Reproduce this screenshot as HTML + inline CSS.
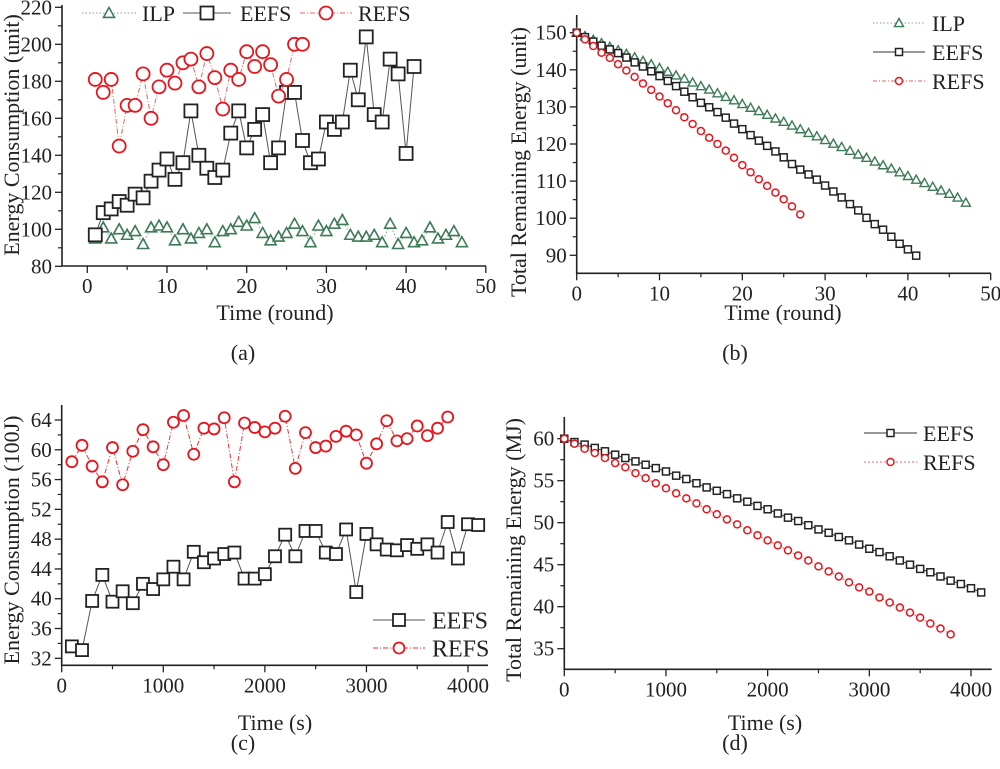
<!DOCTYPE html>
<html><head><meta charset="utf-8"><style>
html,body{margin:0;padding:0;background:#fff;}
svg{display:block;font-family:"Liberation Serif","Times New Roman",serif;}
svg text{font-family:"Liberation Serif","Times New Roman",serif;}
</style></head><body>
<svg id="fig" width="1000" height="769" viewBox="0 0 1000 769"></svg>
<script>
// ---- Panel (a) data ----
const aILP = [95,101,95,100,97,99,92,101,102,101,94,100,95,98,100,93,99,100,104,102,106,98,94,96,98,103,99,93,102,99,103,105,97,96,96,97,93,103,92,98,93,94,101,95,97,99,93];
const aEEFS = [97,109,111,115,113,119,117,126,132,138,127,136,164,140,133,128,132,152,164,144,154,162,136,144,174,174,148,136,138,158,154,158,186,170,204,162,158,192,184,141,188];
const aREFS = [181,174,181,145,167,167,184,160,177,186,179,190,192,177,195,182,165,186,181,196,188,196,189,172,181,200,200];
const aXTicks = [0,10,20,30,40,50];
const aYTicks = [80,100,120,140,160,180,200,220];
// ---- Panel (b) data ----
const bILP = [150,149.1,148.1,147.2,146.2,145.3,144.3,143.4,142.4,141.5,140.5,139.5,138.5,137.6,136.6,135.6,134.7,133.7,132.7,131.8,130.8,129.8,128.9,127.9,126.9,126.0,125.0,124.0,123.0,122.1,121.1,120.1,119.2,118.2,117.2,116.3,115.3,114.3,113.4,112.4,111.4,110.4,109.5,108.5,107.5,106.6,105.6,104.2];
const bEEFS = [150,148.8,147.6,146.5,145.5,144.5,143.3,142.0,140.9,139.6,138.3,137.0,135.6,134.1,132.6,131.1,129.9,128.6,127.1,125.5,124.0,122.4,120.9,119.5,118.0,116.4,114.6,113.1,111.8,110.4,108.8,107.2,105.6,103.8,102.1,100.1,98.4,96.9,95.0,93.1,91.6,89.9];
const bREFS = [150,148.2,146.4,144.6,143.2,141.5,139.8,138.1,136.3,134.6,132.8,131.0,129.1,127.2,125.4,123.5,121.7,120.0,118.2,116.3,114.3,112.4,110.5,108.7,106.9,105.1,103.2,101.0];
const bXTicks = [0,10,20,30,40,50];
const bYTicks = [90,100,110,120,130,140,150];
// ---- Panel (c) data ----
const cEEFS = [33.6,33.1,39.7,43.2,39.6,41.0,39.4,42.0,41.3,42.6,44.3,42.6,46.3,44.9,45.4,46.0,46.2,42.7,42.7,43.3,45.7,48.6,45.7,49.1,49.1,46.2,46.0,49.3,40.9,48.7,47.3,46.6,46.5,47.2,46.7,47.3,46.2,50.3,45.4,50.0,49.9];
const cREFS = [58.4,60.6,57.8,55.7,60.3,55.3,59.8,62.7,60.4,58.0,63.7,64.6,59.4,62.9,62.8,64.3,55.7,63.6,63.0,62.4,62.9,64.5,57.5,62.3,60.3,60.5,61.8,62.5,62.0,58.2,60.8,63.9,61.2,61.5,63.2,61.9,62.9,64.4];
const cXTicks = [0,1000,2000,3000,4000];
const cYTicks = [32,36,40,44,48,52,56,60,64];
// ---- Panel (d) data ----
const dEEFS = [60,59.6,59.3,58.9,58.5,58.1,57.7,57.3,56.9,56.5,56.1,55.6,55.2,54.7,54.2,53.8,53.4,52.9,52.5,52.0,51.6,51.1,50.6,50.2,49.7,49.2,48.8,48.3,47.9,47.4,46.9,46.5,46.0,45.5,45.0,44.5,44.1,43.6,43.1,42.7,42.2,41.7];
const dREFS = [60,59.4,58.8,58.3,57.7,57.1,56.6,55.9,55.3,54.7,54.1,53.5,52.9,52.3,51.6,51.0,50.4,49.8,49.1,48.5,47.9,47.3,46.7,46.1,45.5,44.8,44.2,43.6,42.9,42.3,41.8,41.1,40.5,39.9,39.3,38.7,38.0,37.4,36.7];
const dXTicks = [0,1000,2000,3000,4000];
const dYTicks = [35,40,45,50,55,60];

const NS = "http://www.w3.org/2000/svg";
const fig = document.getElementById('fig');
const FONT = '"Liberation Serif","Times New Roman",serif';
function mk(tag, attrs, parent){
  const e = document.createElementNS(NS, tag);
  for (const k in attrs) e.setAttribute(k, attrs[k]);
  if (tag === 'text') e.setAttribute('font-family', FONT);
  (parent||fig).appendChild(e);
  return e;
}
const GREEN = "#3d7a55", RED = "#e8141c", BLACK = "#222";

function marker(g, kind, x, y, s, sw, color){
  let m;
  if (kind === 'sq') m = mk('rect', {x:x-s/2, y:y-s/2, width:s, height:s, fill:'#fff', stroke:color, 'stroke-width':sw}, g);
  else if (kind === 'ci') m = mk('circle', {cx:x, cy:y, r:s/2, fill:'#fff', stroke:color, 'stroke-width':sw}, g);
  else m = mk('polygon', {points:`${x},${y-s/2} ${x+s/2},${y+s*0.4} ${x-s/2},${y+s*0.4}`, fill:'#fff', stroke:color, 'stroke-width':sw}, g);
  return m;
}

function panel(p){
  const g = mk('g', {});
  
  
  const sx = v => p.x0px + (v - p.xv0) * p.xs;
  const sy = v => p.y0px - (v - p.yv0) * p.ys;
  const ax = mk('path', {d:`M${p.left},${p.top} L${p.left},${p.bottom} L${p.right},${p.bottom}`, fill:'none', stroke:BLACK, 'stroke-width':1.6}, g);
  
  
  p.xTicks.forEach((t,i) => {
    const x = sx(t);
    mk('line', {x1:x, y1:p.bottom, x2:x, y2:p.bottom+7, stroke:BLACK, 'stroke-width':1.3}, g);
    if (i < p.xTicks.length-1){
      const xm = sx(t + (p.xTicks[1]-p.xTicks[0])/2);
      mk('line', {x1:xm, y1:p.bottom, x2:xm, y2:p.bottom+4, stroke:BLACK, 'stroke-width':1.2}, g);
    }
    const tl = mk('text', {x:x, y:p.bottom+27, 'text-anchor':'middle', 'font-size':21, fill:'#222'}, g);
    tl.textContent = t;
    
    
  });
  p.yTicks.forEach((t,i) => {
    const y = sy(t);
    mk('line', {x1:p.left-7, y1:y, x2:p.left, y2:y, stroke:BLACK, 'stroke-width':1.3}, g);
    const half = (p.yTicks[1]-p.yTicks[0])/2;
    [t-half, t+half].forEach(v => {
      const yy = sy(v);
      if (yy < p.bottom-1 && yy > p.top+1 && (i===0 || v > t)) mk('line', {x1:p.left-4, y1:yy, x2:p.left, y2:yy, stroke:BLACK, 'stroke-width':1.2}, g);
    });
    const tl = mk('text', {x:p.left-10, y:y+7, 'text-anchor':'end', 'font-size':21, fill:'#222'}, g);
    tl.textContent = t;
    
    
  });
  const xt = mk('text', {x:p.xtx, y:p.xty, 'text-anchor':'middle', 'font-size':22, fill:'#222'}, g);
  xt.textContent = p.xTitle;
  
  
  const yt = mk('text', {x:0, y:0, 'text-anchor':'middle', 'font-size':22, fill:'#222', transform:`translate(${p.ytx},${p.yty}) rotate(-90)`}, g);
  yt.textContent = p.yTitle;
  
  
  const pl = mk('text', {x:p.plx, y:p.ply, 'text-anchor':'middle', 'font-size':22, fill:'#222'}, g);
  pl.textContent = p.label;
  
  
  p.series.forEach(s => {
    const sg = mk('g', {}, g);
    
    
    const pts = s.vals.map((v,i) => [sx(s.x0 + i*s.dx), sy(v)]);
    const ln = mk('polyline', {points:pts.map(q=>q.join(',')).join(' '), fill:'none', stroke:s.lineColor, 'stroke-width':1, 'stroke-dasharray':s.dash||''}, sg);
    
    
    pts.forEach(q => {
      const m = marker(sg, s.kind, q[0], q[1], s.size, s.sw, s.color);
      
      
    });
  });
  p.legend.forEach(L => {
    const lg = mk('g', {}, g);
    
    
    const s = L.s;
    mk('line', {x1:L.x1, y1:L.y, x2:L.x2, y2:L.y, stroke:s.lineColor, 'stroke-width':1, 'stroke-dasharray':s.dash||''}, lg);
    marker(lg, s.kind, (L.x1+L.x2)/2, L.y, s.size, s.sw, s.color);
    const t = mk('text', {x:L.tx, y:L.y+L.fs*0.36, 'font-size':L.fs, fill:'#222'}, lg);
    t.textContent = s.label;
  });
}

const sA = {
  ilp:{key:'ilp', label:'ILP', vals:aILP, x0:1, dx:1, kind:'tri', size:11, sw:1.6, color:GREEN, lineColor:'#7fa88c', dash:'1.5,2'},
  eefs:{key:'eefs', label:'EEFS', vals:aEEFS, x0:1, dx:1, kind:'sq', size:13, sw:1.8, color:BLACK, lineColor:'#555'},
  refs:{key:'refs', label:'REFS', vals:aREFS, x0:1, dx:1, kind:'ci', size:13, sw:1.8, color:RED, lineColor:'#f06060', dash:'5,2,1,2'}
};
panel({name:'panel-a', left:62, right:486, top:5, bottom:266, x0px:87.3, xv0:0, xs:7.97, y0px:266.3, yv0:80, ys:1.85,
  xTicks:aXTicks, yTicks:aYTicks, xTitle:'Time (round)', xtx:275, xty:320, yTitle:'Energy Consumption (unit)', ytx:19, yty:135,
  label:'(a)', plx:243, ply:360, series:[sA.ilp, sA.eefs, sA.refs],
  legend:[{s:sA.ilp,x1:82,x2:136,y:13,tx:142,fs:22},{s:sA.eefs,x1:183,x2:231,y:13,tx:240,fs:22},{s:sA.refs,x1:300,x2:352,y:13,tx:358,fs:22}]});

const sB = {
  ilp:{key:'ilp', label:'ILP', vals:bILP, x0:0, dx:1, kind:'tri', size:9, sw:1.4, color:GREEN, lineColor:'#7fa88c', dash:'1.5,2'},
  eefs:{key:'eefs', label:'EEFS', vals:bEEFS, x0:0, dx:1, kind:'sq', size:7, sw:1.5, color:BLACK, lineColor:'#333'},
  refs:{key:'refs', label:'REFS', vals:bREFS, x0:0, dx:1, kind:'ci', size:7, sw:1.5, color:RED, lineColor:'#f06060', dash:'4,2,1,2'}
};
panel({name:'panel-b', left:576.7, right:991, top:15, bottom:273.3, x0px:576.7, xv0:0, xs:8.28, y0px:255.3, yv0:90, ys:3.71,
  xTicks:bXTicks, yTicks:bYTicks, xTitle:'Time (round)', xtx:783, xty:320, yTitle:'Total Remaining Energy (unit)', ytx:526, yty:162,
  label:'(b)', plx:735, ply:360, series:[sB.ilp, sB.eefs, sB.refs],
  legend:[{s:sB.ilp,x1:873,x2:925,y:23,tx:932,fs:22},{s:sB.eefs,x1:873,x2:925,y:52,tx:932,fs:22},{s:sB.refs,x1:873,x2:925,y:81,tx:932,fs:22}]});

const sC = {
  eefs:{key:'eefs', label:'EEFS', vals:cEEFS, x0:100, dx:100, kind:'sq', size:12, sw:1.8, color:BLACK, lineColor:'#555'},
  refs:{key:'refs', label:'REFS', vals:cREFS, x0:100, dx:100, kind:'ci', size:11, sw:1.8, color:RED, lineColor:'#f03030', dash:'5,2,1,2'}
};
panel({name:'panel-c', left:61.7, right:488, top:405, bottom:665.3, x0px:61.7, xv0:0, xs:0.10158, y0px:658.3, yv0:32, ys:7.447,
  xTicks:cXTicks, yTicks:cYTicks, xTitle:'Time (s)', xtx:275, xty:730, yTitle:'Energy Consumption (100J)', ytx:19, yty:540,
  label:'(c)', plx:243, ply:750, series:[sC.eefs, sC.refs],
  legend:[{s:sC.eefs,x1:373,x2:425,y:620,tx:432,fs:24},{s:sC.refs,x1:373,x2:425,y:648,tx:432,fs:24}]});

const sD = {
  eefs:{key:'eefs', label:'EEFS', vals:dEEFS, x0:0, dx:100, kind:'sq', size:7, sw:1.5, color:BLACK, lineColor:'#333'},
  refs:{key:'refs', label:'REFS', vals:dREFS, x0:0, dx:100, kind:'ci', size:7, sw:1.5, color:RED, lineColor:'#f06060', dash:'2,2'}
};
panel({name:'panel-d', left:564.3, right:991.7, top:417, bottom:669.3, x0px:564.3, xv0:0, xs:0.101675, y0px:648.7, yv0:35, ys:8.4,
  xTicks:dXTicks, yTicks:dYTicks, xTitle:'Time (s)', xtx:765, xty:730, yTitle:'Total Remaining Energy (MJ)', ytx:521, yty:550,
  label:'(d)', plx:735, ply:750, series:[sD.eefs, sD.refs],
  legend:[{s:sD.eefs,x1:864,x2:917,y:433,tx:923,fs:22},{s:sD.refs,x1:864,x2:917,y:462,tx:923,fs:22}]});
</script>
</body></html>
